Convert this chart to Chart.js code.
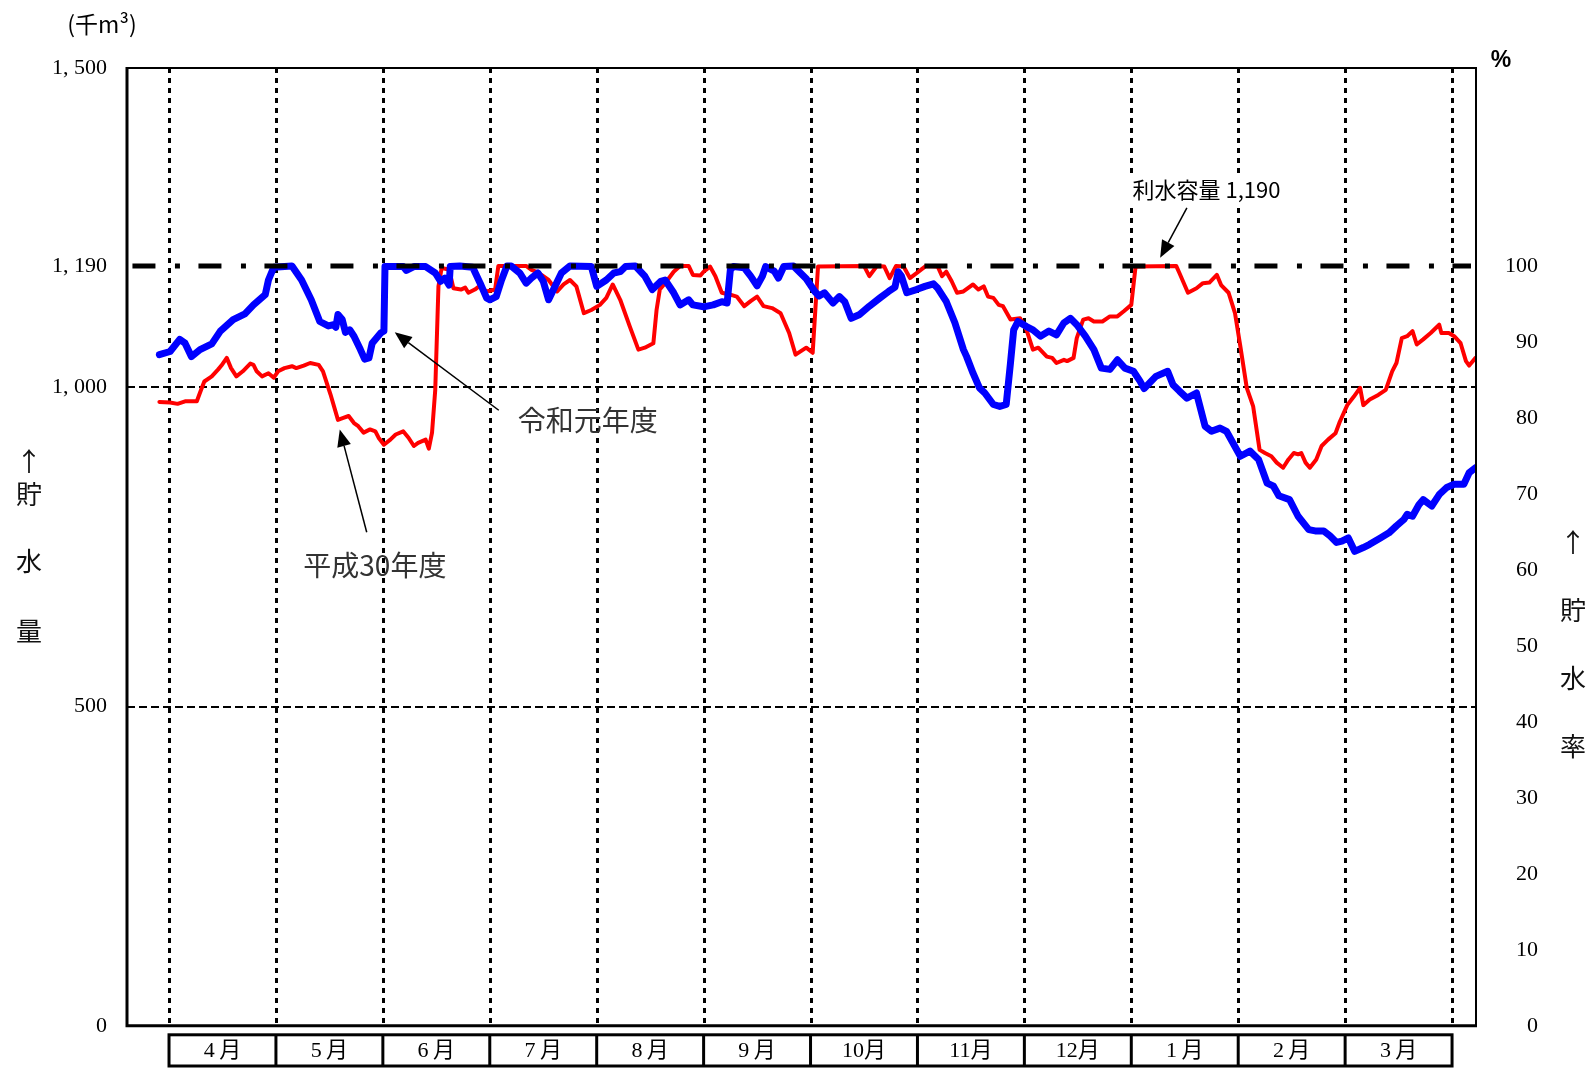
<!DOCTYPE html>
<html lang="ja">
<head>
<meta charset="utf-8">
<title>貯水量</title>
<script src="https://cdn.jsdelivr.net/npm/chart.js@4.4.1/dist/chart.umd.min.js"></script>
<style>
  html, body { margin: 0; padding: 0; background: #fff; }
  canvas { display: block; }
</style>
</head>
<body>
<canvas id="chart" width="1595" height="1068"></canvas>
<script>
// x = months since 1 April (0 = start of April, 12 = end of March)
const monthLabels = ['4月', '5月', '6月', '7月', '8月', '9月', '10月', '11月', '12月', '1月', '2月', '3月'];
const leftTicks = [0, 500, 1000, 1190, 1500];
const rightTicks = [0, 10, 20, 30, 40, 50, 60, 70, 80, 90, 100];
const gridValues = [500, 1000];
const capacity = 1190; // 利水容量 (千m3)

// 令和元年度
const r1Months = [-0.09, 0.01, 0.10, 0.15, 0.21, 0.29, 0.40, 0.48, 0.60, 0.71, 0.79, 0.90, 0.93, 0.98,
  1.15, 1.24, 1.33, 1.41, 1.49, 1.54, 1.56, 1.58, 1.62, 1.65, 1.69, 1.73, 1.79, 1.83, 1.87, 1.90, 1.98,
  2.01, 2.02, 2.19, 2.22, 2.29, 2.40, 2.49, 2.54, 2.58, 2.62, 2.63, 2.72, 2.84, 2.91, 2.97,
  3.00, 3.06, 3.11, 3.16, 3.20, 3.28, 3.34, 3.39, 3.45, 3.50, 3.55, 3.61, 3.67, 3.75, 3.95,
  4.00, 4.09, 4.16, 4.22, 4.27, 4.36, 4.45, 4.52, 4.60, 4.64, 4.72, 4.78, 4.86, 4.90,
  5.00, 5.09, 5.17, 5.22, 5.25, 5.28, 5.38, 5.44, 5.50, 5.55, 5.58, 5.66, 5.70, 5.75, 5.84, 5.96,
  6.04, 6.08, 6.13, 6.21, 6.27, 6.32, 6.38, 6.46, 6.55, 6.65, 6.73, 6.79, 6.82, 6.85, 6.90, 6.99,
  7.07, 7.15, 7.19, 7.27, 7.35, 7.43, 7.46, 7.52, 7.58, 7.63, 7.71, 7.77, 7.83, 7.87, 7.90, 7.94,
  8.02, 8.08, 8.15, 8.23, 8.30, 8.37, 8.43, 8.49, 8.57, 8.65, 8.72, 8.80, 8.87, 8.94,
  9.02, 9.08, 9.12, 9.16, 9.23, 9.34, 9.39, 9.45, 9.52, 9.61, 9.69, 9.75, 9.83, 9.89,
  10.02, 10.11, 10.19, 10.27, 10.33, 10.38, 10.48, 10.56, 10.66, 10.72, 10.80, 10.86, 10.92, 10.97,
  11.03, 11.09, 11.17, 11.23, 11.33, 11.41, 11.48, 11.55, 11.58, 11.63, 11.69, 11.73, 11.81, 11.88, 11.95,
  12.02, 12.11, 12.16, 12.22];
const r1Storage = [1051, 1056, 1075, 1069, 1048, 1059, 1068, 1088, 1106, 1115, 1129, 1145, 1168, 1188,
  1190, 1168, 1137, 1103, 1096, 1098, 1094, 1114, 1106, 1086, 1090, 1080, 1059, 1044, 1046, 1069, 1085,
  1088, 1189, 1189, 1183, 1189, 1189, 1179, 1166, 1171, 1160, 1189, 1190, 1188, 1163, 1140,
  1137, 1142, 1168, 1190, 1190, 1179, 1163, 1171, 1179, 1166, 1137, 1158, 1179, 1190, 1189,
  1158, 1168, 1179, 1181, 1189, 1190, 1174, 1153, 1166, 1168, 1148, 1129, 1137, 1129,
  1126, 1129, 1134, 1132, 1184, 1189, 1187, 1174, 1159, 1174, 1189, 1182, 1171, 1189, 1190, 1170,
  1150, 1143, 1148, 1132, 1142, 1134, 1108, 1114, 1127, 1140, 1150, 1157, 1181, 1174, 1148, 1153,
  1158, 1162, 1155, 1134, 1101, 1059, 1048, 1022, 999, 991, 973, 970, 973, 1038, 1090, 1103,
  1095, 1090, 1080, 1088, 1082, 1101, 1108, 1098, 1080, 1059, 1030, 1028, 1043, 1030,
  1025, 1010, 998, 1005, 1017, 1025, 1004, 994, 983, 991, 939, 931, 936, 931,
  892, 900, 887, 850, 845, 830, 824, 798, 777, 775, 775, 767, 757, 759,
  764, 743, 749, 754, 764, 772, 783, 793, 801, 798, 816, 824, 814, 832, 843,
  848, 848, 866, 874];

// 平成30年度
const h30Months = [-0.09, 0.01, 0.08, 0.15, 0.26, 0.30, 0.33, 0.40, 0.46, 0.49, 0.54, 0.58, 0.63, 0.69,
  0.76, 0.79, 0.82, 0.87, 0.93, 0.98, 1.02, 1.08, 1.15, 1.19, 1.26, 1.32, 1.40, 1.44, 1.51, 1.58,
  1.63, 1.68, 1.73, 1.77, 1.82, 1.88, 1.93, 1.96, 2.01, 2.07, 2.12, 2.19, 2.24, 2.29, 2.33, 2.40,
  2.43, 2.46, 2.49, 2.52, 2.55, 2.62, 2.66, 2.73, 2.77, 2.80, 2.86, 2.90, 2.97, 3.05, 3.08,
  3.34, 3.39, 3.45, 3.50, 3.55, 3.63, 3.69, 3.75, 3.81, 3.88, 3.95, 4.03, 4.09, 4.15, 4.22,
  4.31, 4.39, 4.45, 4.53, 4.56, 4.59, 4.64, 4.72, 4.78, 4.86, 4.90, 4.97, 5.00, 5.06, 5.11,
  5.17, 5.25, 5.31, 5.38, 5.44, 5.50, 5.56, 5.64, 5.72, 5.80, 5.86, 5.96, 6.02, 6.07, 6.50,
  6.55, 6.62, 6.69, 6.74, 6.80, 6.87, 6.93, 7.01, 7.08, 7.19, 7.23, 7.27, 7.32, 7.37, 7.43,
  7.52, 7.57, 7.62, 7.66, 7.71, 7.76, 7.80, 7.87, 7.96, 8.02, 8.08, 8.13, 8.21, 8.26, 8.30,
  8.37, 8.40, 8.46, 8.49, 8.55, 8.60, 8.65, 8.73, 8.80, 8.87, 8.93, 9.00, 9.04, 9.42, 9.45,
  9.53, 9.61, 9.67, 9.73, 9.80, 9.84, 9.91, 9.97, 10.02, 10.08, 10.14, 10.20, 10.25, 10.31,
  10.36, 10.42, 10.47, 10.52, 10.56, 10.59, 10.63, 10.67, 10.73, 10.78, 10.84, 10.91, 10.95,
  11.02, 11.08, 11.14, 11.17, 11.23, 11.31, 11.38, 11.44, 11.48, 11.53, 11.58, 11.63, 11.67,
  11.73, 11.80, 11.88, 11.90, 11.97, 12.02, 12.08, 12.13, 12.16, 12.22];
const h30Storage = [977, 976, 974, 978, 978, 996, 1009, 1017, 1028, 1034, 1046, 1030, 1017, 1025,
  1037, 1035, 1025, 1017, 1022, 1015, 1025, 1030, 1033, 1030, 1034, 1038, 1035, 1025, 989, 949,
  952, 955, 944, 939, 929, 934, 931, 921, 910, 918, 926, 931, 921, 908, 913, 918,
  904, 929, 996, 1158, 1187, 1184, 1155, 1153, 1156, 1148, 1153, 1158, 1150, 1153, 1190,
  1190, 1184, 1180, 1174, 1168, 1150, 1161, 1168, 1158, 1116, 1121, 1129, 1140, 1161, 1137,
  1095, 1059, 1062, 1069, 1121, 1153, 1163, 1181, 1190, 1190, 1176, 1175, 1181, 1189, 1174,
  1148, 1145, 1142, 1127, 1135, 1142, 1127, 1124, 1116, 1085, 1051, 1062, 1054, 1189, 1190,
  1174, 1190, 1189, 1171, 1190, 1189, 1171, 1181, 1190, 1189, 1174, 1181, 1166, 1148, 1150,
  1161, 1153, 1158, 1142, 1140, 1129, 1127, 1106, 1108, 1090, 1059, 1062, 1048, 1046, 1038,
  1043, 1041, 1046, 1077, 1106, 1108, 1103, 1103, 1111, 1111, 1119, 1129, 1189, 1190, 1179,
  1148, 1155, 1163, 1164, 1176, 1160, 1148, 1116, 1064, 999, 970, 902, 897, 892,
  882, 874, 887, 897, 895, 897, 882, 874, 887, 908, 918, 928, 946,
  972, 985, 999, 972, 981, 988, 996, 1025, 1038, 1077, 1080, 1088, 1067,
  1075, 1085, 1098, 1085, 1085, 1080, 1069, 1041, 1034, 1046];

const serif = '"Liberation Serif", "Noto Sans CJK JP", serif';
const gothic = '"Noto Sans CJK JP", "Noto Sans", sans-serif';

function fmtStorage(v) {
  if (v >= 1000) return Math.floor(v / 1000) + ', ' + String(v % 1000).padStart(3, '0');
  return String(v);
}

function drawArrow(ctx, x1, y1, x2, y2) {
  const ang = Math.atan2(y2 - y1, x2 - x1);
  const L = 17, W = 7;
  const bx = x2 - L * Math.cos(ang), by = y2 - L * Math.sin(ang);
  ctx.lineWidth = 1.5;
  ctx.beginPath();
  ctx.moveTo(x1, y1);
  ctx.lineTo(bx, by);
  ctx.stroke();
  ctx.beginPath();
  ctx.moveTo(x2, y2);
  ctx.lineTo(bx + W * Math.sin(ang), by - W * Math.cos(ang));
  ctx.lineTo(bx - W * Math.sin(ang), by + W * Math.cos(ang));
  ctx.closePath();
  ctx.fill();
}

const decor = {
  id: 'decor',
  beforeDatasetsDraw(chart) {
    const {ctx, chartArea: a, scales: {x, y}} = chart;
    ctx.save();
    ctx.strokeStyle = '#000';
    // dashed lines at 500 / 1,000
    ctx.lineWidth = 2;
    ctx.setLineDash([8, 4]);
    gridValues.forEach(v => {
      const py = Math.round(y.getPixelForValue(v));
      ctx.beginPath();
      ctx.moveTo(a.left, py);
      ctx.lineTo(a.right, py);
      ctx.stroke();
    });
    // dotted month lines
    ctx.lineWidth = 3;
    ctx.setLineDash([5, 5]);
    for (let m = 0; m <= 12; m++) {
      const px = Math.round(x.getPixelForValue(m)) + 0.5;
      ctx.beginPath();
      ctx.moveTo(px, a.top);
      ctx.lineTo(px, a.bottom);
      ctx.stroke();
    }
    ctx.restore();
  },
  afterDraw(chart) {
    const {ctx, chartArea: a, scales: {x, y}} = chart;
    ctx.save();
    ctx.strokeStyle = '#000';
    ctx.fillStyle = '#000';
    ctx.setLineDash([]);

    // frame
    ctx.lineWidth = 2;
    ctx.beginPath();
    ctx.moveTo(a.left, a.top);
    ctx.lineTo(a.right, a.top);
    ctx.lineTo(a.right, a.bottom);
    ctx.stroke();
    ctx.lineWidth = 3;
    ctx.beginPath();
    ctx.moveTo(a.left, a.top - 1);
    ctx.lineTo(a.left, a.bottom);
    ctx.lineTo(a.right + 1, a.bottom);
    ctx.stroke();

    // month boxes
    const top = a.bottom + 9, bot = chart.height - 2;
    const x0 = x.getPixelForValue(0), x12 = x.getPixelForValue(12);
    ctx.lineWidth = 3;
    ctx.strokeRect(x0, top, x12 - x0, bot - top);
    for (let m = 1; m < 12; m++) {
      const px = x.getPixelForValue(m);
      ctx.beginPath();
      ctx.moveTo(px, top);
      ctx.lineTo(px, bot);
      ctx.stroke();
    }
    ctx.font = '22px ' + serif;
    ctx.textAlign = 'center';
    ctx.textBaseline = 'middle';
    monthLabels.forEach((t, i) => {
      const s = t.length === 2 ? t.replace('月', '\u2009月') : t;
      ctx.fillText(s, x.getPixelForValue(i + 0.5), (top + bot) / 2 + 1);
    });

    // unit labels
    ctx.font = '23px ' + gothic;
    ctx.fillText('(千m³)', 102, 24);
    ctx.font = 'bold 23px "Liberation Sans", sans-serif';
    ctx.fillText('%', 1501, 61);

    // axis titles (stacked vertically)
    ctx.font = '26px ' + gothic;
    ctx.fillStyle = '#111';
    ['↑', '貯', '水', '量'].forEach((c, i) => ctx.fillText(c, 29, [461, 494, 561, 631][i]));
    ['↑', '貯', '水', '率'].forEach((c, i) => ctx.fillText(c, 1573, [542, 610, 678, 746][i]));

    // annotations
    const P = (m, v) => [x.getPixelForValue(m), y.getPixelForValue(v)];
    ctx.fillStyle = '#000';
    ctx.strokeStyle = '#000';

    // 利水容量
    ctx.font = '22px ' + gothic;
    const [cx, cy] = P(9.703, 1309);
    const label = '利水容量 1,190';
    const w = ctx.measureText(label).width;
    ctx.fillStyle = '#fff';
    ctx.fillRect(cx - w / 2 - 5, cy - 16, w + 10, 31);
    ctx.fillStyle = '#000';
    ctx.fillText(label, cx, cy);
    drawArrow(ctx, ...P(9.52, 1281), ...P(9.27, 1203));

    ctx.font = '28px ' + gothic;
    ctx.fillStyle = '#333';
    ctx.fillText('令和元年度', ...P(3.917, 948));
    ctx.fillText('平成30年度', ...P(1.925, 721));
    ctx.fillStyle = '#000';
    drawArrow(ctx, ...P(3.084, 964), ...P(2.111, 1086));
    drawArrow(ctx, ...P(1.849, 773), ...P(1.597, 934));

    ctx.restore();
  }
};

const ctx = document.getElementById('chart').getContext('2d');
new Chart(ctx, {
  type: 'line',
  data: {
    datasets: [
      {
        label: '利水容量',
        data: [{x: -0.342, y: capacity}, {x: 12.177, y: capacity}],
        borderColor: '#000',
        borderWidth: 5,
        borderDash: [23, 19.5, 5, 18.5],
        borderCapStyle: 'butt',
        order: 0
      },
      {
        label: '令和元年度',
        data: r1Months.map((m, i) => ({x: m, y: r1Storage[i]})),
        borderColor: '#0000FF',
        borderWidth: 7,
        order: 1
      },
      {
        label: '平成30年度',
        data: h30Months.map((m, i) => ({x: m, y: h30Storage[i]})),
        borderColor: '#FF0000',
        borderWidth: 4,
        order: 2
      }
    ]
  },
  options: {
    responsive: false,
    animation: false,
    layout: { padding: { top: 68, right: 57, bottom: 41, left: 0 } },
    elements: {
      point: { radius: 0 },
      line: { tension: 0, borderJoinStyle: 'round', borderCapStyle: 'round', fill: false }
    },
    plugins: { legend: { display: false }, tooltip: { enabled: false } },
    scales: {
      x: { type: 'linear', min: -0.393, max: 12.224, display: false },
      y: {
        position: 'left',
        min: 0,
        max: 1500,
        afterBuildTicks: s => { s.ticks = leftTicks.map(v => ({value: v})); },
        afterFit: s => { s.width = 127; },
        grid: { display: false, drawTicks: false },
        border: { display: false },
        ticks: {
          padding: 20,
          color: '#000',
          font: { family: serif, size: 22 },
          callback: v => fmtStorage(v)
        }
      },
      y2: {
        position: 'right',
        min: 0,
        max: 1500 / capacity * 100,
        afterBuildTicks: s => { s.ticks = rightTicks.map(v => ({value: v})); },
        afterFit: s => { s.width = 62; },
        grid: { display: false, drawTicks: false },
        border: { display: false },
        ticks: {
          padding: 29,
          crossAlign: 'far',
          color: '#000',
          font: { family: serif, size: 22 },
          callback: v => String(v)
        }
      }
    }
  },
  plugins: [decor]
});
</script>
</body>
</html>
